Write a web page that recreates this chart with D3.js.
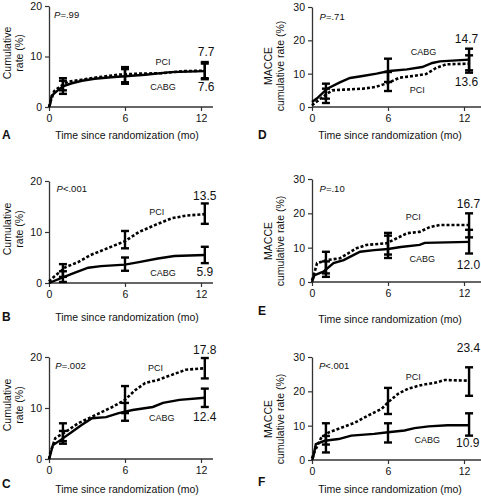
<!DOCTYPE html>
<html><head><meta charset="utf-8">
<script src="https://cdn.jsdelivr.net/npm/d3@7"></script>
<style>
html,body{margin:0;padding:0;background:#fff;}
svg{display:block;}
text{font-family:"Liberation Sans",Arial,sans-serif;fill:#111;}
</style></head>
<body><svg id="c" width="481" height="497"></svg>
<script>
// ---------- data ----------
const xTicks = [0, 6, 12];
const ticks20 = [0, 10, 20];
const ticks30 = [0, 10, 20, 30];

// Panel A: Cumulative rate (%)
const aPCI  = [[0,0],[0.1,0.9],[0.4,3.1],[0.9,4.1],[1.5,5.0],[2.6,5.4],[3.9,5.9],[5.5,6.4],[7,6.6],[8.9,6.7],[10.7,7.1],[12.3,7.2]];
const aCABG = [[0,0],[0.1,0.6],[0.2,2.2],[0.6,3.1],[1.1,4.1],[1.8,4.7],[2.6,5.2],[3.6,5.6],[4.9,5.9],[6,6.1],[7.6,6.4],[9.6,6.9],[12.3,7.1]];
const aPCIErr  = [[1.1,3.3,5.7],[6,4.9,7.9],[12.3,5.7,8.9]];
const aCABGErr = [[1.1,2.6,5.2],[6,4.6,7.5],[12.3,5.5,8.6]];

// Panel B
const bPCI  = [[0,0.3],[0.2,0.8],[1.3,3.1],[2.3,4.1],[3.3,5.5],[4.7,6.9],[6,8.2],[7.1,10],[8.4,11.4],[9.7,12.7],[10.8,13.2],[12.3,13.5]];
const bCABG = [[0,0],[1,1.0],[2,2],[3.1,3],[4.1,3.3],[6,3.6],[7.1,4.1],[8.6,4.8],[9.9,5.3],[12.3,5.5]];
const bPCIErr  = [[1.1,1.2,3.7],[6,6.8,10.2],[12.3,11.6,15.6]];
const bCABGErr = [[1.1,0.2,2.3],[6,2.4,5.0],[12.3,3.9,7.1]];

// Panel C
const cPCI  = [[0,0],[0.1,1.2],[0.5,4.1],[1.3,5.3],[2.3,7],[3.4,8.3],[5,10.2],[6,11.6],[6.8,13.5],[7.6,14.9],[8.6,15.5],[9.7,16.5],[10.8,17.5],[12.3,17.8]];
const cCABG = [[0,0],[0.05,0.3],[0.3,2.7],[0.9,3.7],[1.8,5.3],[2.6,6.7],[3.4,8],[4.5,8.2],[5.5,9],[6.6,9.6],[8.2,10.2],[9,11],[10.3,11.6],[12.3,12]];
const cPCIErr  = [[1.1,3.5,7],[6,9,14.3],[12.3,15.8,19.8]];
const cCABGErr = [[1.1,3.0,5.5],[6,7.5,11],[12.3,10.2,13.8]];

// Panel D: MACCE cumulative rate (%)
const dPCI  = [[0,0.5],[0.5,2],[1.2,4],[1.6,5],[2.5,5.2],[4,5.5],[5,6],[6,7.2],[6.9,8.8],[8,9.3],[9,9.9],[9.8,11.7],[10.6,12.8],[12.4,13]];
const dCABG = [[0,1.5],[0.4,2.6],[1.2,5.5],[2.2,7.4],[3,8.7],[4,9.3],[5.1,10],[6.1,10.8],[7.5,11.3],[8.7,12],[9.5,13.2],[10.1,13.7],[11.4,14],[12.4,14.2]];
const dPCIErr  = [[1.1,1.2,5.5],[6,4.8,10.5],[12.4,10.3,15.5]];
const dCABGErr = [[1.1,2.5,7],[6,7.5,14.5],[12.4,11,17.5]];

// Panel E
const ePCI  = [[0,0.5],[0.1,1.5],[0.4,5.5],[1.2,6.4],[2.2,6.9],[3.5,9.8],[4.3,10.8],[5.9,11.3],[6.4,12.2],[7.5,14.2],[8.5,14.6],[9.3,16],[10.1,16.6],[12.4,16.6]];
const eCABG = [[0,0],[0.05,0.6],[0.2,2],[0.9,3],[1.7,5.5],[2.5,6.4],[3.3,7.9],[3.8,8.8],[4.9,9.3],[6,9.6],[7,10.2],[8.5,10.8],[8.9,11.4],[12.4,11.7]];
const ePCIErr  = [[1.1,2.5,8.8],[6,8,14.3],[12.4,13,20]];
const eCABGErr = [[1.1,1.5,6],[6,7,13.5],[12.4,8.3,15.2]];

// Panel F
const fPCI  = [[0,0.5],[0.2,2.4],[0.7,6.3],[1.3,8],[2.3,9.4],[3.4,10.9],[4.4,12.9],[5.5,14.9],[6,16.8],[6.8,19.3],[7.6,20.8],[8.6,21.8],[9.7,22.5],[10.5,23.3],[12.4,23.1]];
const fCABG = [[0,0],[0.1,0.8],[0.3,4.6],[1,5.6],[2.1,6.1],[3.1,7.1],[4.9,7.6],[6,8.1],[7.3,8.6],[8.1,9.3],[9.2,9.8],[10.7,10.1],[12.4,10.1]];
const fPCIErr  = [[1.1,4.5,10.7],[6,13.4,21],[12.4,18.7,27]];
const fCABGErr = [[1.1,2.2,7],[6,5.1,10.7],[12.4,7.1,13.6]];

const pValues = ["=.99", "<.001", "=.002", "=.71", "=.10", "<.001"];
const pciEnd  = ["7.7", "13.5", "17.8", "14.7", "16.7", "23.4"];
const cabgEnd = ["7.6", "5.9", "12.4", "13.6", "12.0", "10.9"];
const panelLetters = ["A","B","C","D","E","F"];
const xTitle = "Time since randomization (mo)";

// ---------- layout ----------
const L = {x0:49, x12:201, xEnd:213, ylab:["Cumulative","rate (%)"], ylabX:[7,19], ylabDy:-54, letterX:2};
const R = {x0:312, x12:464, xEnd:481, ylab:["MACCE","cumulative rate (%)"], ylabX:[268,280], ylabDy:-41, letterX:258};
const panels = [
 {col:L, y0:107, yTop:6,   yMax:20, ticks:ticks20, pci:aPCI, cabg:aCABG, pe:aPCIErr, ce:aCABGErr, titleY:135, letterY:135,
  pLab:[0.4,18.4], pciLab:[9.0,8.9], cabgLab:[9.0,4.0], pciV:[12.4,10.9], cabgV:[12.4,4.0]},
 {col:L, y0:283, yTop:181, yMax:20, ticks:ticks20, pci:bPCI, cabg:bCABG, pe:bPCIErr, ce:bCABGErr, titleY:317, letterY:317,
  pLab:[0.6,18.6], pciLab:[8.5,13.9], cabgLab:[9.0,2.0], pciV:[12.3,17.1], cabgV:[12.3,2.2]},
 {col:L, y0:459, yTop:357, yMax:20, ticks:ticks20, pci:cPCI, cabg:cCABG, pe:cPCIErr, ce:cCABGErr, titleY:489, letterY:484,
  pLab:[0.5,18.4], pciLab:[8.4,17.8], cabgLab:[8.9,8.0], pciV:[12.3,21.4], cabgV:[12.3,8.2]},
 {col:R, y0:107, yTop:7,   yMax:30, ticks:ticks30, pci:dPCI, cabg:dCABG, pe:dPCIErr, ce:dCABGErr, titleY:135, letterY:135,
  pLab:[0.6,27.4], pciLab:[8.3,5.2], cabgLab:[8.8,16.6], pciV:[12.2,20.4], cabgV:[12.2,7.6]},
 {col:R, y0:282, yTop:179, yMax:30, ticks:ticks30, pci:ePCI, cabg:eCABG, pe:ePCIErr, ce:eCABGErr, titleY:319, letterY:311,
  pLab:[0.6,27.4], pciLab:[8.0,18.8], cabgLab:[8.7,6.7], pciV:[12.35,22.6], cabgV:[12.35,5.0]},
 {col:R, y0:460, yTop:357, yMax:30, ticks:ticks30, pci:fPCI, cabg:fCABG, pe:fPCIErr, ce:fCABGErr, titleY:489, letterY:482,
  pLab:[0.55,27.7], pciLab:[8.0,24.2], cabgLab:[9.1,5.8], pciV:[12.35,32.7], cabgV:[12.3,5.0]}
];

const svg = d3.select("#c");
const FS = 10.5;

panels.forEach((p, i) => {
  const c = p.col;
  const x = d3.scaleLinear().domain([0,12]).range([c.x0, c.x12]);
  const y = d3.scaleLinear().domain([0,p.yMax]).range([p.y0, p.yTop]);
  const g = svg.append("g");

  // y axis
  const ya = g.append("g").attr("transform",`translate(${c.x0},0)`)
    .call(d3.axisLeft(y).tickValues(p.ticks).tickSize(4).tickSizeOuter(0).tickPadding(3));
  ya.selectAll("path.domain").attr("stroke","#333").attr("stroke-width",1.3);
  ya.selectAll(".tick line").attr("stroke","#333").attr("stroke-width",1.2);
  ya.selectAll("text").style("font-size",FS+"px").style("font-family","Liberation Sans, Arial, sans-serif").attr("fill","#222");

  // x axis
  const xa = g.append("g").attr("transform",`translate(0,${p.y0})`)
    .call(d3.axisBottom(x).tickValues(xTicks).tickSize(4).tickSizeOuter(0).tickPadding(4));
  xa.select("path.domain").remove();
  xa.append("line").attr("x1",c.x0).attr("x2",c.xEnd).attr("y1",0).attr("y2",0).attr("stroke","#333").attr("stroke-width",1.3);
  xa.selectAll(".tick line").attr("stroke","#333").attr("stroke-width",1.2);
  xa.selectAll("text").style("font-size",FS+"px").style("font-family","Liberation Sans, Arial, sans-serif").attr("fill","#222");

  // curves
  const line = d3.line().x(d=>x(d[0])).y(d=>y(d[1]));
  g.append("path").datum(p.cabg).attr("d",line).attr("fill","none").attr("stroke","#000").attr("stroke-width",2.4);
  g.append("path").datum(p.pci).attr("d",line).attr("fill","none").attr("stroke","#000").attr("stroke-width",2.6).attr("stroke-dasharray","3,2");

  // error bars
  const errs = p.ce.concat(p.pe);
  const eg = g.append("g").attr("stroke","#000").attr("stroke-width",2.4);
  errs.forEach(e => {
    const xe = x(e[0]);
    eg.append("line").attr("x1",xe).attr("x2",xe).attr("y1",y(e[1])).attr("y2",y(e[2]));
    eg.append("line").attr("x1",xe-4).attr("x2",xe+4).attr("y1",y(e[1])).attr("y2",y(e[1]));
    eg.append("line").attr("x1",xe-4).attr("x2",xe+4).attr("y1",y(e[2])).attr("y2",y(e[2]));
  });

  // texts
  const pt = g.append("text").attr("x",x(p.pLab[0])).attr("y",y(p.pLab[1])).attr("dominant-baseline","central")
    .style("font-size","9.5px");
  pt.append("tspan").style("font-style","italic").text("P");
  pt.append("tspan").text(pValues[i]);
  g.append("text").attr("x",x(p.pciLab[0])).attr("y",y(p.pciLab[1])).attr("text-anchor","middle").attr("dominant-baseline","central").style("font-size","9px").text("PCI");
  g.append("text").attr("x",x(p.cabgLab[0])).attr("y",y(p.cabgLab[1])).attr("text-anchor","middle").attr("dominant-baseline","central").style("font-size","9px").text("CABG");
  g.append("text").attr("x",x(p.pciV[0])).attr("y",y(p.pciV[1])).attr("text-anchor","middle").attr("dominant-baseline","central").style("font-size","12px").text(pciEnd[i]);
  g.append("text").attr("x",x(p.cabgV[0])).attr("y",y(p.cabgV[1])).attr("text-anchor","middle").attr("dominant-baseline","central").style("font-size","12px").text(cabgEnd[i]);

  // y label
  const ymid = p.y0 + c.ylabDy;
  c.ylab.forEach((t,k) => {
    g.append("text").attr("transform",`translate(${c.ylabX[k]},${ymid}) rotate(-90)`)
      .attr("text-anchor","middle").attr("dominant-baseline","central").style("font-size",FS+"px").text(t);
  });

  // x title
  g.append("text").attr("x",x(6)+2).attr("y",p.titleY).attr("text-anchor","middle").attr("dominant-baseline","central")
    .style("font-size",FS+"px").text(xTitle);
  // panel letter
  g.append("text").attr("x",c.letterX).attr("y",p.letterY).attr("dominant-baseline","central")
    .style("font-size","12px").style("font-weight","bold").text(panelLetters[i]);
});
</script>
</body></html>
